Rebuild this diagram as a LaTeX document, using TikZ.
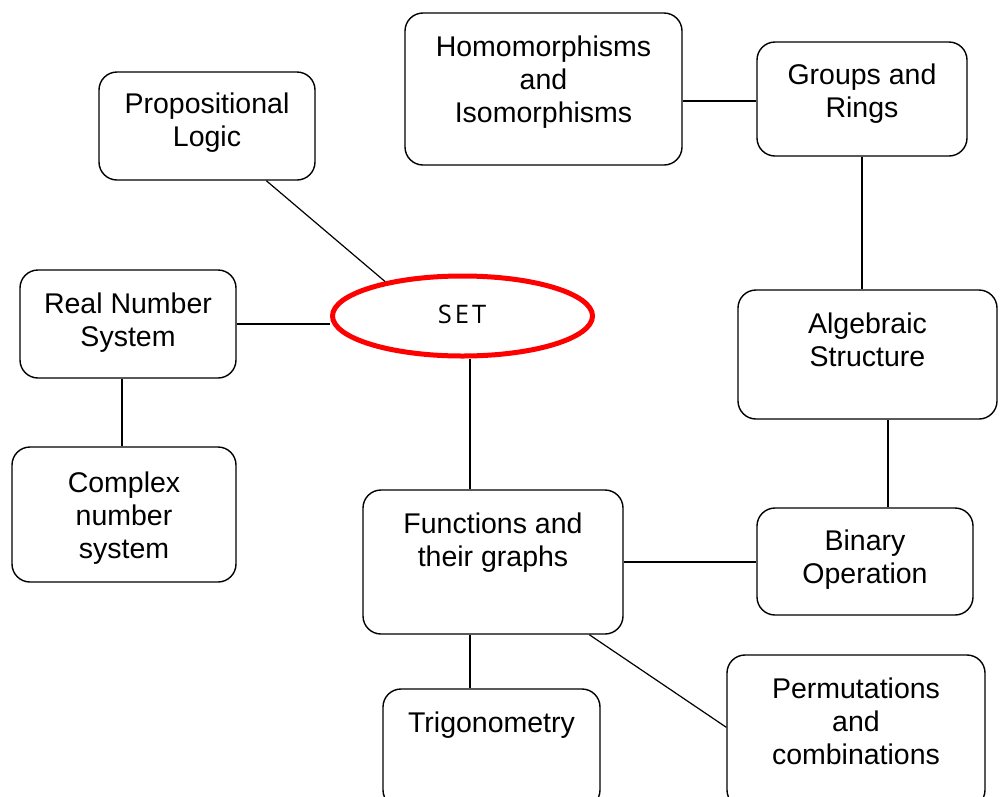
\documentclass[tikz,border=0pt]{standalone}
\usepackage{fontspec}
\setmainfont{Liberation Sans}
\newfontfamily\setfont{Open Sans}
\usetikzlibrary{calc,shapes.geometric}
\begin{document}
\begin{tikzpicture}[x=1pt,y=-1pt,
  box/.style={draw, line width=1.4pt, rounded corners=18pt, inner sep=0pt, fill=white},
  lbl/.style={anchor=north, inner sep=0pt, align=center, font=\fontsize{28.5}{33}\selectfont},
  conn/.style={line width=1.2pt},
  setnode/.style={ellipse, draw=red, line width=5pt, inner sep=0pt, minimum width=260pt, minimum height=80pt, fill=white}
]
\useasboundingbox (0,0) rectangle (1005,796);
\clip (0,0) rectangle (1005,796);

% boxes
\node[box, minimum width=216pt, minimum height=108pt] (prop) at (207,126) {};
\node[box, minimum width=277pt, minimum height=152pt] (homo) at (543.5,89) {};
\node[box, minimum width=210pt, minimum height=114pt] (groups) at (862,99) {};
\node[box, minimum width=216pt, minimum height=108pt] (real) at (128,324) {};
\node[box, minimum width=259pt, minimum height=129pt] (alg) at (867.5,354.5) {};
\node[box, minimum width=224pt, minimum height=135pt] (complex) at (124,514.5) {};
\node[box, minimum width=260pt, minimum height=144pt] (func) at (493,562) {};
\node[box, minimum width=216pt, minimum height=107pt] (binary) at (865,561.5) {};
\node[box, minimum width=217pt, minimum height=119pt] (trig) at (491.5,748.5) {};
\node[box, minimum width=258pt, minimum height=153pt] (perm) at (856,731.5) {};
\node[setnode] (set) at (462.5,316) {};

% labels
\node[lbl] (propt) at ($(prop.north)+(0,21)$) {Propositional\\Logic};
\node[lbl] (homot) at ($(homo.north)+(0,23)$) {Homomorphisms\\and\\Isomorphisms};
\node[lbl] (groupst) at ($(groups.north)+(0,22)$) {Groups and\\Rings};
\node[lbl] (realt) at ($(real.north)+(0,23)$) {Real Number\\System};
\node[lbl] (algt) at ($(alg.north)+(0,23)$) {Algebraic\\Structure};
\node[lbl] (complext) at ($(complex.north)+(0,25)$) {Complex\\number\\system};
\node[lbl] (funct) at ($(func.north)+(0,23)$) {Functions and\\their graphs};
\node[lbl] (binaryt) at ($(binary.north)+(0,22)$) {Binary\\Operation};
\node[lbl] (trigt) at ($(trig.north)+(0,23)$) {Trigonometry};
\node[lbl] (permt) at ($(perm.north)+(0,23)$) {Permutations\\and\\combinations};
\node[inner sep=0pt, font=\setfont\fontsize{25.5}{30}\selectfont] (sett) at (462,314) {S\kern3pt E\kern3pt T};

% helper coordinates
\coordinate (x470) at (470,0);
\coordinate (x888) at (888,0);
\coordinate (y101) at (0,101);
\coordinate (pstart) at ($(prop.south west)+(168,0)$);
\coordinate (rc) at ($(real.south)+(-6,0)$);
\coordinate (fp) at ($(func.south west)+(227,0)$);
\coordinate (pp) at ($(perm.north west)+(0,73)$);

% connectors
\draw[conn] (pstart) -- (set.156);
\draw[conn] (real.east) -- (real.east -| set.west);
\draw[conn] (rc) -- (rc |- complex.north);
\draw[conn] (set.south -| x470) -- (func.north -| x470);
\draw[conn] (func.south -| x470) -- (trig.north -| x470);
\draw[conn] (fp) -- (pp);
\draw[conn] (homo.east |- y101) -- (groups.west |- y101);
\draw[conn] (groups.south) -- (groups.south |- alg.north);
\draw[conn] (alg.south -| x888) -- (binary.north -| x888);
\draw[conn] (func.east) -- (func.east -| binary.west);
\end{tikzpicture}
\end{document}
